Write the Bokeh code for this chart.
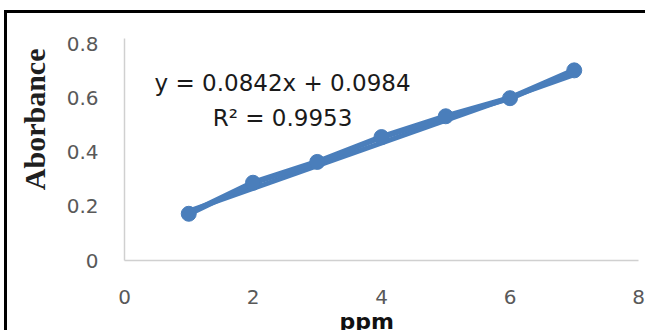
from bokeh.plotting import figure
from bokeh.models import Range1d, FixedTicker, Label, Title
from bokeh.embed import file_html
from bokeh.resources import INLINE

# ---- data ----
ppm = [1, 2, 3, 4, 5, 6, 7]
absorbance = [0.173, 0.288, 0.365, 0.457, 0.534, 0.601, 0.704]
slope = 0.0842
intercept = 0.0984
equation_text = "y = 0.0842x + 0.0984"
r2_text = "R\u00b2 = 0.9953"
x_ticks = [0, 2, 4, 6, 8]
x_tick_labels = ["0", "2", "4", "6", "8"]
y_ticks = [0, 0.2, 0.4, 0.6, 0.8]
y_tick_labels = ["0", "0.2", "0.4", "0.6", "0.8"]
x_title = "ppm"
y_title = "Aborbance"

BLUE = "#4a7ebb"
TICK_FONT = "DejaVu Sans"

p = figure(width=641, height=320, output_backend="svg", toolbar_location=None,
           x_range=Range1d(0, 8), y_range=Range1d(0, 0.822),
           min_border_left=117, min_border_right=10, min_border_top=25, min_border_bottom=72)
p.styles = {"border-top": "3px solid black", "border-left": "3px solid black",
            "margin-left": "4px", "margin-top": "10px"}
p.outline_line_color = None
p.grid.visible = False
p.background_fill_color = "white"
p.border_fill_color = "white"

for ax, ticks, labels in ((p.xaxis[0], x_ticks, x_tick_labels), (p.yaxis[0], y_ticks, y_tick_labels)):
    ax.ticker = FixedTicker(ticks=ticks)
    ax.major_label_overrides = {t: l for t, l in zip(ticks, labels)}
    ax.major_tick_line_color = None
    ax.minor_tick_line_color = None
    ax.axis_line_color = "#d0d0d0"
    ax.axis_line_width = 1.5
    ax.major_label_text_font = TICK_FONT
    ax.major_label_text_font_size = "20px"
    ax.major_label_text_color = "#595959"
p.xaxis.major_label_standoff = 23
p.yaxis.major_label_standoff = 20

# trendline from printed coefficients
tx = [ppm[0], ppm[-1]]
ty = [slope * v + intercept for v in tx]
p.line(tx, ty, line_color=BLUE, line_width=5)
# series
p.line(ppm, absorbance, line_color=BLUE, line_width=6)
p.scatter(ppm, absorbance, size=15, fill_color=BLUE, line_color=BLUE)

p.add_layout(Label(x=2.46, y=0.657, text=equation_text, text_align="center", text_baseline="middle",
                   text_font=TICK_FONT, text_font_size="23px", text_color="#1a1a1a"))
p.add_layout(Label(x=2.46, y=0.528, text=r2_text, text_align="center", text_baseline="middle",
                   text_font=TICK_FONT, text_font_size="23px", text_color="#1a1a1a"))

p.add_layout(Title(text=y_title, align="right", offset=10, standoff=21, vertical_align="top",
                   text_font="Liberation Serif", text_font_style="bold",
                   text_font_size="30px", text_color="#1f1f1f"), "left")
p.add_layout(Title(text=x_title, align="left", offset=215, standoff=0,
                   text_font="DejaVu Sans", text_font_style="bold", text_font_size="22px",
                   text_color="#111111"), "below")

open("out.html", "w").write(file_html(p, INLINE))
